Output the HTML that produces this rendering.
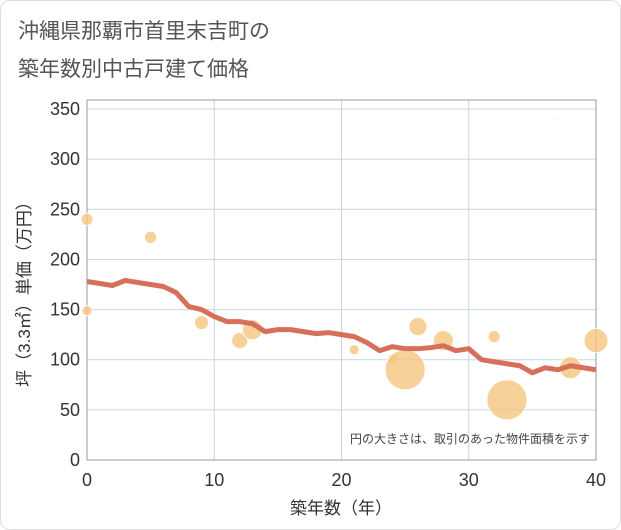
<!DOCTYPE html>
<html><head><meta charset="utf-8"><style>
body{margin:0;background:#fff;font-family:"Liberation Sans","Noto Sans CJK JP",sans-serif;}
#card{position:absolute;left:0;top:0;width:619px;height:528px;border:1px solid #ddd;border-radius:10px;background:#fff;}
</style></head><body>
<div id="card"></div>
<svg id="c" width="621" height="530" style="position:absolute;left:0;top:0">
<text x="18" y="38" font-size="21" fill="#555">沖縄県那覇市首里末吉町の</text>
<text x="18" y="76" font-size="21" fill="#555">築年数別中古戸建て価格</text>
</svg>
<script>
const xTicks=[0,10,20,30,40];
const yTicks=[0,50,100,150,200,250,300,350];
const lineX=[0,1,2,3,4,5,6,7,8,9,10,11,12,13,14,15,16,17,18,19,20,21,22,23,24,25,26,27,28,29,30,31,32,33,34,35,36,37,38,39,40];
const lineY=[178,176,174,179,177,175,173,167,153,150,143,138,138,136,128,130,130,128,126,127,125,123,117,109,113,111,111,112,114,109,111,100,98,96,94,87,92,90,94,92,90];
const bubX=[0,0,5,9,12,13,21,24,25,26,28,32,33,38,40,37];
const bubY=[240,149,222,137,119,130,110,101,90,133,119,123,60,92,119,340];
const bubR=[6,5,6,7,8,10,5,5,20,9,10,6,20,11,12,1];
const svg=document.getElementById('c');const NS='http://www.w3.org/2000/svg';
const X0=87,X1=596,Y0=460,Y1=109;
const sx=v=>X0+(X1-X0)*v/40, sy=v=>Y0-(Y0-Y1)*v/350;
function mk(t,a,p){const e=document.createElementNS(NS,t);for(const k in a)e.setAttribute(k,a[k]);(p||svg).appendChild(e);return e;}
const grid=mk('g',{});
yTicks.forEach(v=>{mk('line',{x1:X0,x2:X1,y1:sy(v),y2:sy(v),stroke:'#c9d6e6','stroke-width':1},grid);
const t=mk('text',{x:X0-7,y:sy(v)+6,'font-size':18,fill:'#333','text-anchor':'end'});t.textContent=v;
});
xTicks.forEach(v=>{mk('line',{x1:sx(v),x2:sx(v),y1:100,y2:Y0,stroke:'#c9d6e6','stroke-width':1},grid);
const t=mk('text',{x:sx(v),y:486,'font-size':18,fill:'#333','text-anchor':'middle'});t.textContent=v;
});
const fr=mk('rect',{x:X0,y:100,width:X1-X0,height:Y0-100,fill:'none',stroke:'#999','stroke-width':1});

const bg=mk('g',{});
bubX.forEach((x,i)=>{const c=mk('circle',{cx:sx(x),cy:sy(bubY[i]),r:bubR[i],fill:'#f5c67e','fill-opacity':0.8,stroke:'#fff','stroke-width':0.8},bg);
});
const pl=mk('polyline',{points:lineX.map((x,i)=>sx(x)+','+sy(lineY[i])).join(' '),fill:'none',stroke:'#d7705a','stroke-width':5,'stroke-linejoin':'round'});

const n=mk('text',{x:590,y:443,'font-size':12,fill:'#444','text-anchor':'end'});n.textContent='円の大きさは、取引のあった物件面積を示す';

const xt=mk('text',{x:341,y:514,'font-size':17,fill:'#333','text-anchor':'middle'});xt.textContent='築年数（年）';

const yt=mk('text',{x:0,y:0,'font-size':17,fill:'#333','text-anchor':'middle',transform:'translate(30,290) rotate(-90)'});yt.textContent='坪（3.3㎡）単価（万円）';

</script>
</body></html>
